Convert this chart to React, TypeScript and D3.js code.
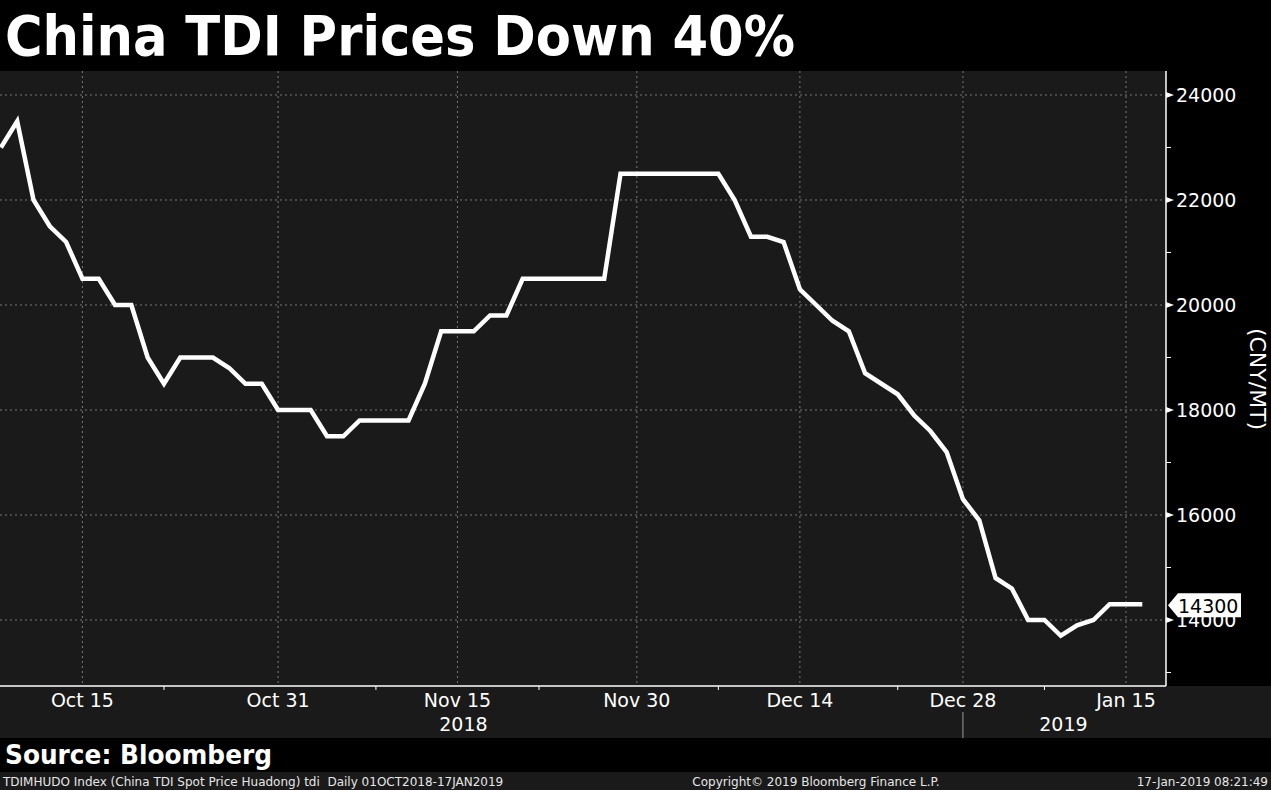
import React from 'react';
import * as d3 from 'd3';

const dates: string[] = [
  '2018-10-08', '2018-10-09', '2018-10-10', '2018-10-11', '2018-10-12',
  '2018-10-15', '2018-10-16', '2018-10-17', '2018-10-18', '2018-10-19',
  '2018-10-22', '2018-10-23', '2018-10-24', '2018-10-25', '2018-10-26',
  '2018-10-29', '2018-10-30', '2018-10-31', '2018-11-01', '2018-11-02',
  '2018-11-05', '2018-11-06', '2018-11-07', '2018-11-08', '2018-11-09',
  '2018-11-12', '2018-11-13', '2018-11-14', '2018-11-15', '2018-11-16',
  '2018-11-19', '2018-11-20', '2018-11-21', '2018-11-22', '2018-11-23',
  '2018-11-26', '2018-11-27', '2018-11-28', '2018-11-29', '2018-11-30',
  '2018-12-03', '2018-12-04', '2018-12-05', '2018-12-06', '2018-12-07',
  '2018-12-10', '2018-12-11', '2018-12-12', '2018-12-13', '2018-12-14',
  '2018-12-17', '2018-12-18', '2018-12-19', '2018-12-20', '2018-12-21',
  '2018-12-24', '2018-12-25', '2018-12-26', '2018-12-27', '2018-12-28',
  '2019-01-02', '2019-01-03', '2019-01-04', '2019-01-07', '2019-01-08',
  '2019-01-09', '2019-01-10', '2019-01-11', '2019-01-14', '2019-01-15',
  '2019-01-16',
];

const prices: number[] = [
  23000, 23500, 22000, 21500, 21200,
  20500, 20500, 20000, 20000, 19000,
  18500, 19000, 19000, 19000, 18800,
  18500, 18500, 18000, 18000, 18000,
  17500, 17500, 17800, 17800, 17800,
  17800, 18500, 19500, 19500, 19500,
  19800, 19800, 20500, 20500, 20500,
  20500, 20500, 20500, 22500, 22500,
  22500, 22500, 22500, 22500, 22500,
  22000, 21300, 21300, 21200, 20300,
  20000, 19700, 19500, 18700, 18500,
  18300, 17900, 17600, 17200, 16300,
  15900, 14800, 14600, 14000, 14000,
  13700, 13900, 14000, 14300, 14300,
  14300,
];

const majorDates: string[] = ['2018-10-15', '2018-10-31', '2018-11-15', '2018-11-30', '2018-12-14', '2018-12-28', '2019-01-15'];
const minorDates: string[] = ['2018-10-22', '2018-11-08', '2018-11-22', '2018-12-07', '2018-12-24', '2019-01-08'];
const yMajor: number[] = [14000, 16000, 18000, 20000, 22000, 24000];
const yMinor: number[] = [13000, 15000, 17000, 19000, 21000, 23000];
const yearLabels: { year: string; anchor: string }[] = [
  { year: '2018', anchor: '2018-11-15' },
  { year: '2019', anchor: '2019-01-08' },
];
const yearBreak = '2018-12-28';
const lastValue = 14300;

const title = 'China TDI Prices Down 40%';
const source = 'Source: Bloomberg';
const footLeft = 'TDIMHUDO Index (China TDI Spot Price Huadong) tdi  Daily 01OCT2018-17JAN2019';
const footMid = 'Copyright\u00a9 2019 Bloomberg Finance L.P.';
const footRight = '17-Jan-2019 08:21:49';

const W = 1271;
const H = 790;
const plotLeft = 0;
const plotRight = 1166;
const plotTop = 71;
const plotBottom = 686;
const FONT = '"DejaVu Sans", Verdana, sans-serif';

export default function App() {
  const x = d3.scalePoint<string>().domain(dates).range([0.9, 1142.3]).padding(0);
  const y = d3.scaleLinear().domain([12743, 24457]).range([plotBottom, plotTop]);
  const fmt = d3.timeFormat('%b %-d');
  const parse = d3.timeParse('%Y-%m-%d');

  const line = d3
    .line<number>()
    .x((_, i) => x(dates[i]) as number)
    .y((d) => y(d));

  const ly = y(lastValue);

  return (
    <svg
      width={W}
      height={H}
      style={{ position: 'fixed', left: 0, top: 0, display: 'block', background: '#000' }}
    >
      <rect x={0} y={0} width={W} height={H} fill="#000" />
      {/* plot background */}
      <rect x={plotLeft} y={plotTop} width={plotRight - plotLeft} height={plotBottom - plotTop} fill="#1a1a1a" />
      {/* x-axis band */}
      <rect x={0} y={plotBottom} width={W} height={738 - plotBottom} fill="#1a1a1a" />
      {/* footer band */}
      <rect x={0} y={772} width={W} height={18} fill="#1a1a1a" />

      {/* title */}
      <text
        x={5}
        y={55}
        fill="#fff"
        fontFamily='"DejaVu Sans", Verdana, sans-serif'
        fontWeight="bold"
        fontSize={55}
        textLength={790}
        lengthAdjust="spacingAndGlyphs"
      >
        {title}
      </text>

      {/* grid */}
      {yMajor.map((v) => (
        <line key={'gy' + v} x1={plotLeft} x2={plotRight} y1={y(v)} y2={y(v)} stroke="#777" strokeDasharray="2,3" strokeWidth={1} />
      ))}
      {majorDates.map((d) => (
        <line key={'gx' + d} x1={x(d)} x2={x(d)} y1={plotTop} y2={plotBottom} stroke="#777" strokeDasharray="2,3" strokeWidth={1} />
      ))}

      {/* series */}
      <path d={line(prices) || ''} fill="none" stroke="#fff" strokeWidth={4.5} strokeLinejoin="miter" strokeMiterlimit={3} />

      {/* x axis */}
      <line x1={0} x2={plotRight} y1={plotBottom} y2={plotBottom} stroke="#fff" strokeWidth={1.5} />
      {minorDates.map((d) => (
        <line key={'mx' + d} x1={x(d)} x2={x(d)} y1={plotBottom} y2={plotBottom + 4} stroke="#fff" strokeWidth={1} />
      ))}
      {majorDates.map((d) => (
        <text key={'lx' + d} x={x(d)} y={707} fill="#fff" fontFamily={FONT} fontSize={19} textAnchor="middle">
          {fmt(parse(d) as Date)}
        </text>
      ))}
      {yearLabels.map((yl) => (
        <text key={yl.year} x={(x(yl.anchor) as number) + (yl.year === '2018' ? 6 : 19)} y={731} fill="#fff" fontFamily={FONT} fontSize={19} textAnchor="middle">
          {yl.year}
        </text>
      ))}
      <line x1={x(yearBreak)} x2={x(yearBreak)} y1={712} y2={738} stroke="#9a9a9a" strokeWidth={1} />

      {/* y axis */}
      <line x1={plotRight} x2={plotRight} y1={plotTop} y2={plotBottom} stroke="#fff" strokeWidth={1.5} />
      {yMinor.map((v) => (
        <line key={'my' + v} x1={plotRight} x2={plotRight + 5} y1={y(v)} y2={y(v)} stroke="#fff" strokeWidth={1} />
      ))}
      {yMajor.map((v) => (
        <g key={'ly' + v}>
          <path d={`M${plotRight},${y(v) - 3}L${plotRight + 8},${y(v)}L${plotRight},${y(v) + 3}Z`} fill="#fff" />
          <text x={plotRight + 10} y={y(v) + 7} fill="#fff" fontFamily={FONT} fontSize={19}>
            {v}
          </text>
        </g>
      ))}
      <text
        transform={`translate(1250,379) rotate(90)`}
        fill="#fff"
        fontFamily={FONT}
        fontSize={22}
        textAnchor="middle"
      >
        (CNY/MT)
      </text>

      {/* last value tag */}
      <path
        d={`M${plotRight + 2},${ly + 1}L${plotRight + 12},${ly - 11}L${plotRight + 75},${ly - 11}L${plotRight + 75},${ly + 13}L${plotRight + 12},${ly + 13}Z`}
        fill="#fff"
      />
      <text x={plotRight + 12} y={ly + 9} fill="#000" fontFamily={FONT} fontSize={19}>
        {lastValue}
      </text>

      {/* source */}
      <text x={5} y={764} fill="#fff" fontFamily={FONT} fontWeight="bold" fontSize={27} textLength={267} lengthAdjust="spacingAndGlyphs">
        {source}
      </text>

      {/* footer */}
      <text x={3} y={786} fill="#e6e6e6" fontFamily={FONT} fontSize={12} style={{ whiteSpace: 'pre' }}>
        {footLeft}
      </text>
      <text x={816} y={786} fill="#e6e6e6" fontFamily={FONT} fontSize={12} textAnchor="middle">
        {footMid}
      </text>
      <text x={1268} y={786} fill="#e6e6e6" fontFamily={FONT} fontSize={12} textAnchor="end">
        {footRight}
      </text>
    </svg>
  );
}
